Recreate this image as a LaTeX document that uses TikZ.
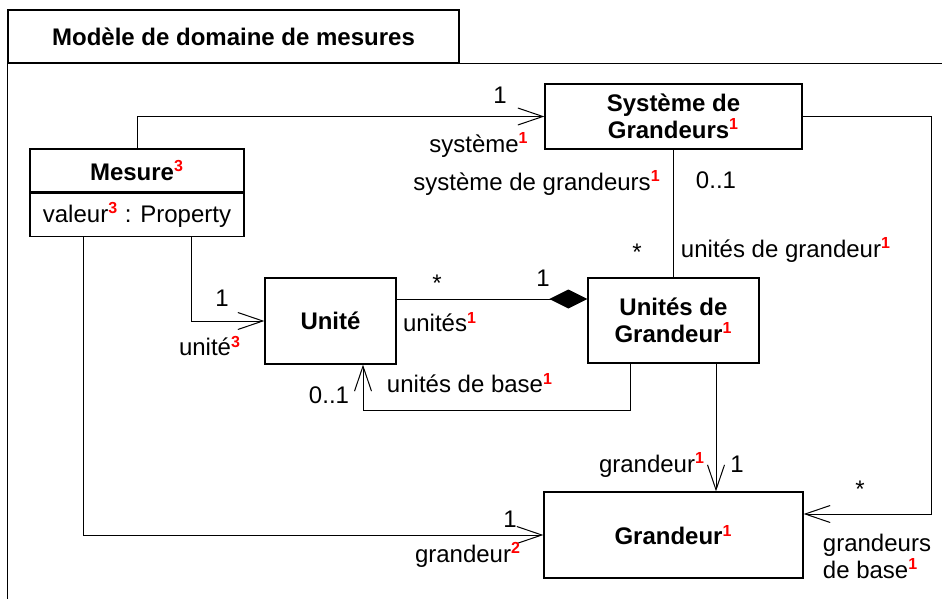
\documentclass[tikz,border=0pt]{standalone}
\usepackage{fontspec}
\setmainfont{Liberation Sans}
\usetikzlibrary{
	calc,
	arrows.meta}
\newcommand{\fn}[1]{\textsuperscript{\textcolor{red}{\textbf{#1}}}}

\begin{document}
\begin{tikzpicture}[x=0.5pt,y=-0.5pt,every node/.style={font=\fontsize{12}{13.5}\selectfont,align=center}]
  \tikzstyle{classbox}=[draw,line width=0.6pt,inner sep=0pt,
    font=\fontsize{12}{13.5}\selectfont\bfseries]
  \tikzstyle{assoc}=[line width=0.5pt,-{Straight Barb[length=12.5pt,width=8.5pt]}]
  \tikzstyle{comp}=[line width=0.5pt,-{Diamond[length=19pt,width=9.5pt]}]
  \tikzstyle{role}=[inner sep=0pt]

  \useasboundingbox (0,0) rectangle (942,599);

  % cadre
  \node [classbox,minimum width=225.5pt,minimum height=26.5pt] (titre) at (233.5,36.5) {Modèle de domaine de mesures};
  \draw [line width=0.6pt] (titre.south west) -- (titre.south west |- 0,599);
  \draw [line width=0.6pt] (titre.south east) -- (titre.south east -| 942,0);

  % classes
  \node [classbox,minimum width=107pt,minimum height=21.5pt] (mesure) at (137,170.5) {Mesure\fn{3}};
  \node [classbox,font=\fontsize{12}{13.5}\selectfont,minimum width=107pt,minimum height=21.5pt,anchor=north] (valeur) at (mesure.south) {valeur\fn{3} : Property};
  \node [classbox,minimum width=128.5pt,minimum height=32.5pt] (systeme) at (673.5,116.5) {Système de\\Grandeurs\fn{1}};
  \node [classbox,minimum width=65.5pt,minimum height=43pt] (unite) at (330.5,321) {Unité};
  \node [classbox,minimum width=85.5pt,minimum height=42.5pt] (udg) at (673.5,320.5) {Unités de\\Grandeur\fn{1}};
  \node [classbox,minimum width=129.5pt,minimum height=43pt] (grandeur) at (673.5,535) {Grandeur\fn{1}};

  % associations
  \draw [assoc] (mesure.north) |- (systeme.west);
  \draw [assoc] (systeme.east) -- ++(129,0) |- ($(grandeur.east)+(0,-21)$);
  \draw [line width=0.5pt] (systeme.south) -- (udg.north);
  \coordinate (c1) at ($(unite.east)+(0,-22)$);
  \draw [comp] (c1) -- (c1 -| udg.west);
  \draw [assoc] ($(valeur.south)+(54,0)$) |- (unite.west);
  \draw [assoc] ($(udg.south)+(-43,0)$) -- ++(0,47) -| ($(unite.south)+(32.5,0)$);
  \coordinate (c2) at ($(udg.south)+(42.5,0)$);
  \draw [assoc] (c2) -- (c2 |- grandeur.north);
  \draw [assoc] ($(valeur.south)+(-54,0)$) |- (grandeur.west);

  % roles et multiplicites
  \node [role] (sys1) at (500,95) {1};
  \node [role] (sysrole) at (479,145) {système\fn{1}};
  \node [role] (sysgr) at (537,183) {système de grandeurs\fn{1}};
  \node [role] (sys01) at (716,180) {0..1};
  \node [role] (udgstar) at (637,252) {*};
  \node [role] (udgrole) at (786,250) {unités de grandeur\fn{1}};
  \node [role] (ustar) at (437,283) {*};
  \node [role] (u1) at (543,278) {1};
  \node [role] (urole) at (440,322) {unités\fn{1}};
  \node [role] (m1) at (222,298) {1};
  \node [role] (mrole) at (210,346) {unité\fn{3}};
  \node [role] (b01) at (329,395) {0..1};
  \node [role] (brole) at (470,383) {unités de base\fn{1}};
  \node [role] (grole) at (652,465) {grandeur\fn{1}};
  \node [role] (g1) at (737,464) {1};
  \node [role] (gstar) at (860,489) {*};
  \node [role,align=left] (gbase) at (877,556) {grandeurs\\de base\fn{1}};
  \node [role] (mg1) at (510,519) {1};
  \node [role] (mgrole) at (468,555) {grandeur\fn{2}};
\end{tikzpicture}
\end{document}
